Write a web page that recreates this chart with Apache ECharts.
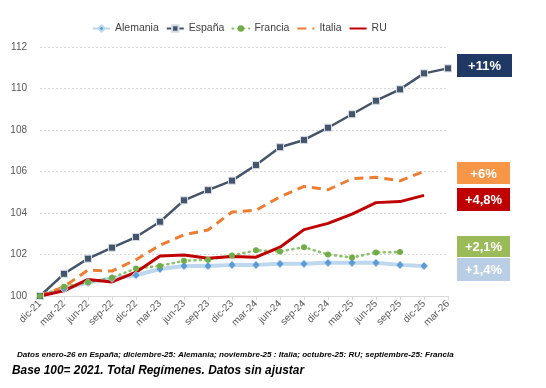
<!DOCTYPE html>
<html><head><meta charset="utf-8">
<script src="https://cdn.jsdelivr.net/npm/echarts@6/dist/echarts.min.js"></script>
<style>html,body{margin:0;padding:0;background:#fff}#c{width:546px;height:388px}</style>
</head><body><div id="c"></div>
<script>
const categories = ['dic-21','mar-22','jun-22','sep-22','dic-22','mar-23','jun-23','sep-23','dic-23','mar-24','jun-24','sep-24','dic-24','mar-25','jun-25','sep-25','dic-25','mar-26'];
const alemania = [100,100.35,100.65,100.85,101.0,101.3,101.45,101.45,101.5,101.5,101.55,101.55,101.6,101.6,101.6,101.5,101.45];
const espana = [100,101.07,101.8,102.33,102.84,103.58,104.61,105.1,105.56,106.31,107.17,107.52,108.11,108.76,109.41,109.96,110.73,110.97];
const francia = [100,100.45,100.66,100.88,101.33,101.45,101.7,101.75,101.95,102.2,102.15,102.35,102.0,101.85,102.1,102.12];
const italia = [100,100.45,101.25,101.2,101.75,102.45,102.95,103.18,104.05,104.13,104.78,105.28,105.12,105.65,105.72,105.55,106.0];
const ru = [100,100.25,100.8,100.68,101.15,101.93,101.98,101.82,101.9,101.87,102.35,103.2,103.5,103.95,104.5,104.55,104.85];
const yTicks = {min:100, max:112, interval:2};
const boxes = [
  {text:'+11%', color:'#203864'},
  {text:'+6%', color:'#F79646'},
  {text:'+4,8%', color:'#C00000'},
  {text:'+2,1%', color:'#9BBB59'},
  {text:'+1,4%', color:'#B9CDE5'}
];
const note1 = 'Datos enero-26 en España; diciembre-25: Alemania; noviembre-25 : Italia; octubre-25: RU; septiembre-25: Francia';
const note2 = 'Base 100= 2021. Total Regímenes. Datos sin ajustar';

const FF = '"Liberation Sans", Arial, sans-serif';
const chart = echarts.init(document.getElementById('c'));
const boxPos = [[457,54,55,23],[457,162,53,22],[457,188,53,23],[457,236,53,21],[457,258,53,23]];
const graphics = boxes.map((b,i)=>({
  type:'group', left:boxPos[i][0], top:boxPos[i][1],
  children:[
    {type:'rect', shape:{x:0,y:0,width:boxPos[i][2],height:boxPos[i][3]}, style:{fill:b.color}},
    {type:'text', x:boxPos[i][2]/2, y:boxPos[i][3]/2+1, style:{text:b.text, fill:'#fff', font:'bold 13px '+FF, textAlign:'center', textVerticalAlign:'middle'}}
  ]
}));
graphics.push({type:'text', left:17, top:351, style:{text:note1, fill:'#000', font:'italic bold 8.1px '+FF}});
graphics.push({type:'text', left:12, top:365, style:{text:note2, fill:'#000', font:'italic bold 11.9px '+FF}});

chart.setOption({
  animation:false,
  textStyle:{fontFamily:FF},
  legend:{
    left:87, top:18, itemWidth:17, itemHeight:8, itemGap:7,
    textStyle:{fontSize:10.5, color:'#404040', fontFamily:FF},
    data:['Alemania','España','Francia',
      {name:'Italia', itemStyle:{opacity:0}},
      {name:'RU', itemStyle:{opacity:0}}]
  },
  grid:{left:40, right:98, top:47, bottom:92},
  xAxis:{
    type:'category', data:categories, boundaryGap:false,
    axisLine:{lineStyle:{color:'#d9d9d9'}},
    axisTick:{show:true, lineStyle:{color:'#d9d9d9'}, length:4},
    axisLabel:{rotate:45, fontSize:10, color:'#595959', margin:6, interval:0}
  },
  yAxis:{
    type:'value', min:yTicks.min, max:yTicks.max, interval:yTicks.interval,
    axisLine:{show:false}, axisTick:{show:false},
    axisLabel:{fontSize:10, color:'#595959', margin:13},
    splitLine:{lineStyle:{color:'#d9d9d9', type:[2,2], width:1}}
  },
  series:[
    {name:'Alemania', type:'line', data:alemania, symbol:'diamond', symbolSize:8,
     lineStyle:{color:'#BDD7EE', width:4}, itemStyle:{color:'#5B9BD5', borderColor:'#BDD7EE', borderWidth:1}, color:'#5B9BD5'},
    {name:'España', type:'line', data:espana, symbol:'rect', symbolSize:7,
     lineStyle:{color:'#44546A', width:2.5}, itemStyle:{color:'#44546A', borderColor:'#d6dce5', borderWidth:1}, color:'#44546A'},
    {name:'Francia', type:'line', data:francia, symbol:'circle', symbolSize:6,
     lineStyle:{color:'#8BC167', width:2.6, type:[1,4.5], cap:'round'}, itemStyle:{color:'#70AD47'}, color:'#70AD47'},
    {name:'Italia', type:'line', data:italia, symbol:'none',
     lineStyle:{color:'#ED7D31', width:3, type:[9,6]}, itemStyle:{color:'#ED7D31'}, color:'#ED7D31'},
    {name:'RU', type:'line', data:ru, symbol:'none',
     lineStyle:{color:'#C00000', width:3}, itemStyle:{color:'#C00000'}, color:'#C00000'}
  ],
  graphic:graphics
});
</script></body></html>
